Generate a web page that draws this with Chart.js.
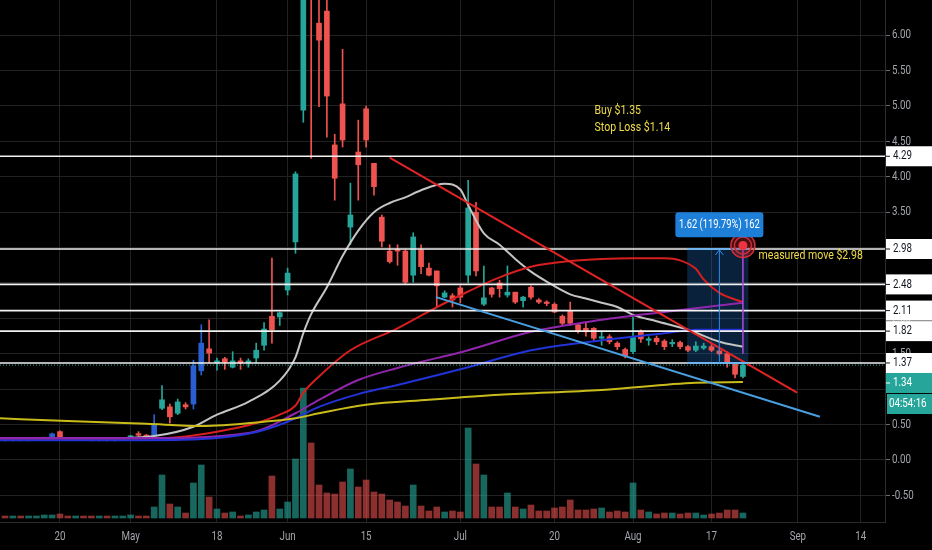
<!DOCTYPE html>
<html>
<head>
<meta charset="utf-8">
<script src="https://cdn.jsdelivr.net/npm/chart.js@4.4.0/dist/chart.umd.min.js"></script>
<style>
  html, body { margin: 0; padding: 0; background: #000; }
  canvas { display: block; }
</style>
</head>
<body>
<canvas id="chart" width="932" height="550"></canvas>
<script>
// daily bars, index 0 = Apr 8 2020 (trading days only)
const tickIdx = [7, 16, 27, 36, 46, 58, 70, 80, 90, 101, 109];
const tickText = ['20', 'May', '18', 'Jun', '15', 'Jul', '20', 'Aug', '17', 'Sep', '14'];
const priceTicks = [-0.5, 0, 0.5, 1, 1.5, 2, 2.5, 3, 3.5, 4, 4.5, 5, 5.5, 6];

const opens = [0.29, 0.28, 0.29, 0.28, 0.29, 0.30, 0.30, 0.40, 0.31, 0.29, 0.30, 0.29, 0.28, 0.29, 0.28, 0.29,
  0.32, 0.36, 0.35, 0.35, 0.73, 0.75, 0.66, 0.78, 0.79, 1.26, 1.57, 1.37, 1.43, 1.31, 1.40, 1.37,
  1.44, 1.62, 2.03, 2.02, 2.40, 3.08, 4.94, 7.40, 6.17, 6.34, 4.45, 5.03, 3.29, 4.35, 4.96, 4.19,
  3.43, 2.95, 2.97, 2.95, 2.61, 2.97, 2.71, 2.67, 2.30, 2.32, 2.43, 2.61, 3.50, 2.20, 2.43, 2.50,
  2.33, 2.37, 2.25, 2.44, 2.26, 2.23, 2.20, 2.03, 2.10, 1.91, 1.86, 1.86, 1.72, 1.74, 1.65, 1.56,
  1.53, 1.82, 1.69, 1.72, 1.68, 1.64, 1.66, 1.60, 1.55, 1.58, 1.60, 1.54, 1.50, 1.37, 1.18];
const highs = [0.31, 0.30, 0.30, 0.30, 0.31, 0.32, 0.38, 0.41, 0.32, 0.31, 0.31, 0.30, 0.30, 0.30, 0.30, 0.31,
  0.35, 0.40, 0.36, 0.64, 1.05, 0.79, 0.86, 0.81, 1.41, 1.91, 1.98, 1.44, 1.45, 1.53, 1.44, 1.43,
  1.65, 1.94, 2.85, 2.09, 2.71, 4.07, 7.10, 7.60, 6.80, 6.60, 4.60, 5.80, 3.91, 4.80, 5.00, 4.19,
  3.46, 3.04, 3.04, 2.97, 3.21, 3.04, 2.78, 2.67, 2.39, 2.35, 2.46, 3.95, 3.64, 2.74, 2.44, 2.54,
  2.74, 2.37, 2.31, 2.46, 2.28, 2.25, 2.22, 2.05, 2.23, 1.93, 1.95, 1.87, 1.81, 1.77, 1.67, 1.58,
  2.02, 1.84, 1.74, 1.75, 1.70, 1.70, 1.68, 1.62, 1.67, 1.65, 1.63, 1.57, 1.53, 1.38, 1.38];
const lows = [0.27, 0.27, 0.27, 0.27, 0.28, 0.28, 0.29, 0.29, 0.28, 0.28, 0.28, 0.27, 0.27, 0.27, 0.27, 0.28,
  0.31, 0.31, 0.32, 0.33, 0.71, 0.52, 0.64, 0.72, 0.72, 1.20, 1.37, 1.27, 1.28, 1.30, 1.28, 1.31,
  1.37, 1.55, 1.65, 1.90, 2.33, 2.92, 4.77, 4.26, 4.99, 4.56, 3.67, 4.42, 3.04, 3.67, 4.42, 3.74,
  3.01, 2.78, 2.75, 2.49, 2.51, 2.63, 2.60, 2.15, 2.29, 2.16, 2.22, 2.50, 2.60, 2.18, 2.30, 2.30,
  2.30, 2.21, 2.16, 2.27, 2.21, 2.18, 2.08, 1.90, 1.90, 1.79, 1.75, 1.69, 1.62, 1.64, 1.56, 1.44,
  1.50, 1.66, 1.62, 1.63, 1.56, 1.60, 1.57, 1.53, 1.53, 1.56, 1.53, 1.48, 1.31, 1.16, 1.16];
const closes = [0.28, 0.29, 0.28, 0.29, 0.30, 0.31, 0.37, 0.30, 0.29, 0.30, 0.29, 0.28, 0.29, 0.28, 0.29, 0.30,
  0.34, 0.35, 0.33, 0.49, 0.85, 0.61, 0.82, 0.75, 1.33, 1.65, 1.51, 1.40, 1.38, 1.40, 1.37, 1.40,
  1.55, 1.85, 1.84, 2.08, 2.64, 4.04, 6.90, 6.70, 5.93, 5.14, 3.98, 4.52, 3.46, 4.17, 4.52, 3.86,
  3.09, 2.80, 2.95, 2.51, 3.15, 2.73, 2.61, 2.46, 2.36, 2.26, 2.30, 3.56, 2.67, 2.29, 2.34, 2.42,
  2.37, 2.23, 2.30, 2.30, 2.23, 2.21, 2.09, 1.93, 1.93, 1.82, 1.81, 1.72, 1.74, 1.67, 1.60, 1.47,
  1.74, 1.71, 1.70, 1.67, 1.60, 1.66, 1.60, 1.55, 1.61, 1.61, 1.55, 1.50, 1.36, 1.21, 1.34];
// volume, millions
const volumes = [0.2, 0.2, 0.2, 0.2, 0.2, 0.3, 0.3, 0.4, 0.2, 0.2, 0.2, 0.2, 0.2, 0.2, 0.2, 0.2,
  0.3, 0.2, 0.2, 1.1, 4.3, 1.4, 1.1, 0.5, 3.5, 5.3, 2.1, 0.9, 0.5, 0.6, 0.2, 0.3,
  0.6, 0.8, 4.2, 0.9, 1.6, 5.9, 13.0, 7.5, 3.3, 2.5, 2.4, 3.6, 4.9, 3.1, 3.8, 2.6,
  2.4, 1.8, 1.6, 1.2, 3.3, 1.2, 0.7, 1.1, 0.6, 0.7, 0.6, 9.0, 5.4, 4.3, 1.1, 1.1,
  2.5, 1.1, 0.9, 1.3, 0.7, 0.7, 1.0, 1.1, 1.8, 0.8, 0.8, 0.9, 1.0, 0.6, 0.7, 0.6,
  3.5, 0.8, 0.6, 0.4, 0.5, 0.5, 0.4, 0.5, 0.5, 0.3, 0.4, 0.5, 0.8, 0.8, 0.5];
const blueBars = [6, 19, 24, 25];

// moving averages: [bar index, price]
const maGrey = [[-1, 0.30], [10, 0.30], [19, 0.34], [24, 0.47], [27, 0.64], [31, 0.82], [35, 1.12], [37, 1.45],
  [38, 1.79], [39, 2.06], [41, 2.44], [43, 2.88], [45, 3.24], [47, 3.50], [49, 3.63], [51, 3.71], [53, 3.81],
  [56, 3.90], [58, 3.82], [59, 3.60], [61, 3.20], [63, 3.04], [65, 2.84], [67, 2.66], [69, 2.52], [72, 2.34],
  [74, 2.28], [76, 2.22], [78, 2.16], [80, 2.05], [83, 1.96], [87, 1.84], [91, 1.67], [94, 1.60]];
const maRed = [[-1, 0.29], [18, 0.30], [22, 0.32], [27, 0.40], [31, 0.49], [35, 0.64], [37, 0.77], [38, 0.95],
  [40, 1.18], [44, 1.55], [50, 1.86], [54, 2.10], [59, 2.38], [63, 2.58], [67, 2.73], [72, 2.81], [76, 2.84],
  [80, 2.85], [84, 2.85], [86, 2.82], [88, 2.70], [89, 2.55], [91, 2.36], [94, 2.23]];
const maPurple = [[-1, 0.31], [18, 0.31], [31, 0.38], [37, 0.66], [40, 0.85], [45, 1.13], [50, 1.30], [59, 1.55],
  [67, 1.81], [76, 1.98], [84, 2.09], [94, 2.22]];
const maBlue = [[-1, 0.28], [18, 0.28], [31, 0.37], [36, 0.54], [40, 0.75], [45, 0.93], [50, 1.06], [59, 1.31],
  [67, 1.55], [76, 1.69], [84, 1.79], [88, 1.84], [94, 1.84]];
const maYellow = [[-1, 0.59], [8, 0.55], [18, 0.51], [25, 0.48], [33, 0.54], [37, 0.59], [40, 0.66], [46, 0.78],
  [54, 0.85], [63, 0.92], [76, 0.99], [88, 1.09], [94, 1.10]];

// drawings
const levels = [4.29, 2.98, 2.48, 2.11, 1.82, 1.37];
const lastPrice = 1.34;
const redTrend = [[49, 4.27], [100.9, 0.95]];
const blueTrend = [[54.9, 2.30], [103.8, 0.61]];

const XMIN = -0.64, XMAX = 112.1;
const SX = 0.78; // narrow text like the screenshot

const UP = '#26a69a', DOWN = '#ef5350', BLUE = '#2a5fd0';
const barColor = opens.map((o, i) => blueBars.includes(i) ? BLUE : (closes[i] >= o ? UP : DOWN));
const volColor = opens.map((o, i) => closes[i] >= o ? 'rgba(38,166,154,0.62)' : 'rgba(239,83,80,0.58)');

const pts = arr => arr.map(p => ({ x: p[0], y: p[1] }));

function maSet(arr, color) {
  return {
    type: 'line', data: pts(arr), borderColor: color, borderWidth: 2, pointRadius: 0,
    cubicInterpolationMode: 'monotone', yAxisID: 'y', order: 30
  };
}

function text(ctx, s, x, y, size, color, align) {
  ctx.save();
  ctx.translate(x, y);
  ctx.scale(SX, 1);
  ctx.font = size + 'px Roboto, "Noto Sans", sans-serif';
  ctx.fillStyle = color;
  ctx.textAlign = align || 'left';
  ctx.textBaseline = 'middle';
  ctx.fillText(s, 0, 0);
  ctx.restore();
}

const datasets = [
  {
    type: 'bar', data: volumes.map((v, i) => ({ x: i, y: v })), backgroundColor: volColor,
    barThickness: 6, grouped: false, yAxisID: 'y2', order: 50
  },
  {
    type: 'bar', data: lows.map((l, i) => ({ x: i, y: [l, highs[i]] })), backgroundColor: barColor,
    barThickness: 1, grouped: false, yAxisID: 'y', order: 41
  },
  {
    type: 'bar', data: opens.map((o, i) => ({ x: i, y: [o, closes[i]] })), backgroundColor: barColor,
    barThickness: 5, minBarLength: 1.5, grouped: false, yAxisID: 'y', order: 40
  },
  maSet(maYellow, '#c9bb1a'),
  maSet(maBlue, '#2233d8'),
  maSet(maPurple, '#9126ad'),
  maSet(maRed, '#d71f1f'),
  maSet(maGrey, '#c4c4c4'),
  {
    type: 'line', data: [{ x: XMIN, y: lastPrice }, { x: XMAX, y: lastPrice }], borderColor: UP,
    borderWidth: 1, borderDash: [1, 2], pointRadius: 0, yAxisID: 'y', order: 21
  },
  ...levels.map(v => ({
    type: 'line', data: [{ x: XMIN, y: v }, { x: XMAX, y: v }], borderColor: '#f2f2f2',
    borderWidth: 1.6, pointRadius: 0, yAxisID: 'y', order: 20
  })),
  {
    type: 'line', data: pts(redTrend), borderColor: '#e32424', borderWidth: 2, pointRadius: 0,
    yAxisID: 'y', order: 10
  },
  {
    type: 'line', data: pts(blueTrend), borderColor: '#4a9fe0', borderWidth: 2, pointRadius: 0,
    yAxisID: 'y', order: 10
  }
];

const drawings = {
  id: 'drawings',
  beforeDatasetsDraw(c) {
    const ctx = c.ctx, x = c.scales.x, y = c.scales.y;
    const x0 = x.getPixelForValue(86.9), x1 = x.getPixelForValue(94.7);
    const yt = y.getPixelForValue(2.98), yb = y.getPixelForValue(1.37);
    ctx.save();
    ctx.fillStyle = 'rgba(33,120,210,0.28)';
    ctx.fillRect(x0, yt, x1 - x0, yb - yt);
    ctx.restore();
  },
  afterDatasetsDraw(c) {
    const ctx = c.ctx, x = c.scales.x, y = c.scales.y;
    const x0 = x.getPixelForValue(86.9), x1 = x.getPixelForValue(94.7);
    const yt = y.getPixelForValue(2.98), yb = y.getPixelForValue(1.37);
    ctx.save();
    // box edges
    ctx.strokeStyle = '#6fb4ee';
    ctx.lineWidth = 2;
    ctx.beginPath();
    ctx.moveTo(x0, yt); ctx.lineTo(x1, yt);
    ctx.moveTo(x0, yb); ctx.lineTo(x1, yb);
    ctx.stroke();
    // arrow
    const xa = x.getPixelForValue(91);
    ctx.strokeStyle = '#2f8ee8';
    ctx.lineWidth = 1;
    ctx.beginPath();
    ctx.moveTo(xa, yb); ctx.lineTo(xa, yt + 1);
    ctx.moveTo(xa - 4, yt + 6); ctx.lineTo(xa, yt + 1); ctx.lineTo(xa + 4, yt + 6);
    ctx.stroke();
    // target and purple drop line
    const tx = x.getPixelForValue(94), ty = y.getPixelForValue(3.03);
    ctx.strokeStyle = '#b548d6';
    ctx.lineWidth = 1.5;
    ctx.beginPath();
    ctx.moveTo(tx, ty); ctx.lineTo(tx, y.getPixelForValue(1.50));
    ctx.stroke();
    ctx.strokeStyle = '#d8313a';
    ctx.lineWidth = 1.5;
    [12, 8.5].forEach(r => { ctx.beginPath(); ctx.arc(tx, ty, r, 0, Math.PI * 2); ctx.stroke(); });
    ctx.fillStyle = 'rgba(200,40,50,0.35)';
    ctx.beginPath(); ctx.arc(tx, ty, 12, 0, Math.PI * 2); ctx.fill();
    ctx.fillStyle = '#ef3340';
    ctx.beginPath(); ctx.arc(tx, ty, 4.5, 0, Math.PI * 2); ctx.fill();
    // measure label
    const ly = y.getPixelForValue(3.33);
    ctx.fillStyle = '#1e7fd8';
    ctx.beginPath();
    ctx.roundRect(xa - 44, ly - 12, 88, 25, 3);
    ctx.fill();
    text(ctx, '1.62 (119.79%) 162', xa, ly + 1, 12, '#ffffff', 'center');
    // notes
    text(ctx, 'Buy $1.35', x.getPixelForValue(75.1), y.getPixelForValue(4.93), 13.5, '#f0dc4a');
    text(ctx, 'Stop Loss $1.14', x.getPixelForValue(75.1), y.getPixelForValue(4.70), 13.5, '#f0dc4a');
    text(ctx, 'measured move $2.98', x.getPixelForValue(96.0), y.getPixelForValue(2.88), 13.5, '#f0dc4a');
    ctx.restore();
  },
  afterDraw(c) {
    const ctx = c.ctx, x = c.scales.x, y = c.scales.y;
    const axisX = c.chartArea.right;
    ctx.save();
    // time labels
    x.ticks.forEach(t => {
      const k = tickIdx.indexOf(t.value);
      if (k >= 0) text(ctx, tickText[k], x.getPixelForValue(t.value), 537, 12.5, '#a3a6ad', 'center');
    });
    // price labels
    y.ticks.forEach(t => text(ctx, t.value.toFixed(2), axisX + 7, y.getPixelForValue(t.value), 12.5, '#a3a6ad'));
    // level tags
    const tag = (v, yy, bg, fg, s) => {
      ctx.fillStyle = bg;
      ctx.fillRect(axisX + 1, yy - 10, 46, 20);
      ctx.fillStyle = fg;
      ctx.fillRect(axisX + 1, yy - 0.5, 4, 1);
      text(ctx, s || v.toFixed(2), axisX + 8, yy, 12.5, fg);
    };
    levels.forEach(v => tag(v, y.getPixelForValue(v), '#ffffff', '#131722'));
    const yl = y.getPixelForValue(1.37);
    tag(lastPrice, yl + 20, '#26a69a', '#ffffff');
    ctx.fillStyle = '#26a69a';
    ctx.fillRect(axisX + 2, yl + 31, 45, 20);
    text(ctx, '04:54:16', axisX + 4, yl + 41, 12.5, '#ffffff');
    ctx.restore();
  }
};

new Chart(document.getElementById('chart'), {
  type: 'bar',
  data: { datasets },
  options: {
    responsive: false,
    animation: false,
    devicePixelRatio: 1,
    layout: { padding: 0 },
    plugins: { legend: { display: false }, tooltip: { enabled: false } },
    scales: {
      x: {
        type: 'linear', position: 'bottom', min: XMIN, max: XMAX, offset: false,
        afterBuildTicks: s => { s.ticks = tickIdx.map(v => ({ value: v })); },
        afterFit: s => { s.height = 28; },
        ticks: { display: false },
        grid: { color: '#222222', drawTicks: false, offset: false },
        border: { color: '#2a2a2a' }
      },
      y: {
        type: 'linear', position: 'right', min: -0.876, max: 6.497,
        afterBuildTicks: s => { s.ticks = priceTicks.map(v => ({ value: v })); },
        afterFit: s => { s.width = 47; },
        ticks: { display: false },
        grid: { color: '#222222', tickLength: 5, tickColor: '#6a6d75' },
        border: { color: '#2e2e2e' }
      },
      y2: { type: 'linear', display: false, min: -0.4, max: 51.8 }
    }
  },
  plugins: [drawings]
});
</script>
</body>
</html>
